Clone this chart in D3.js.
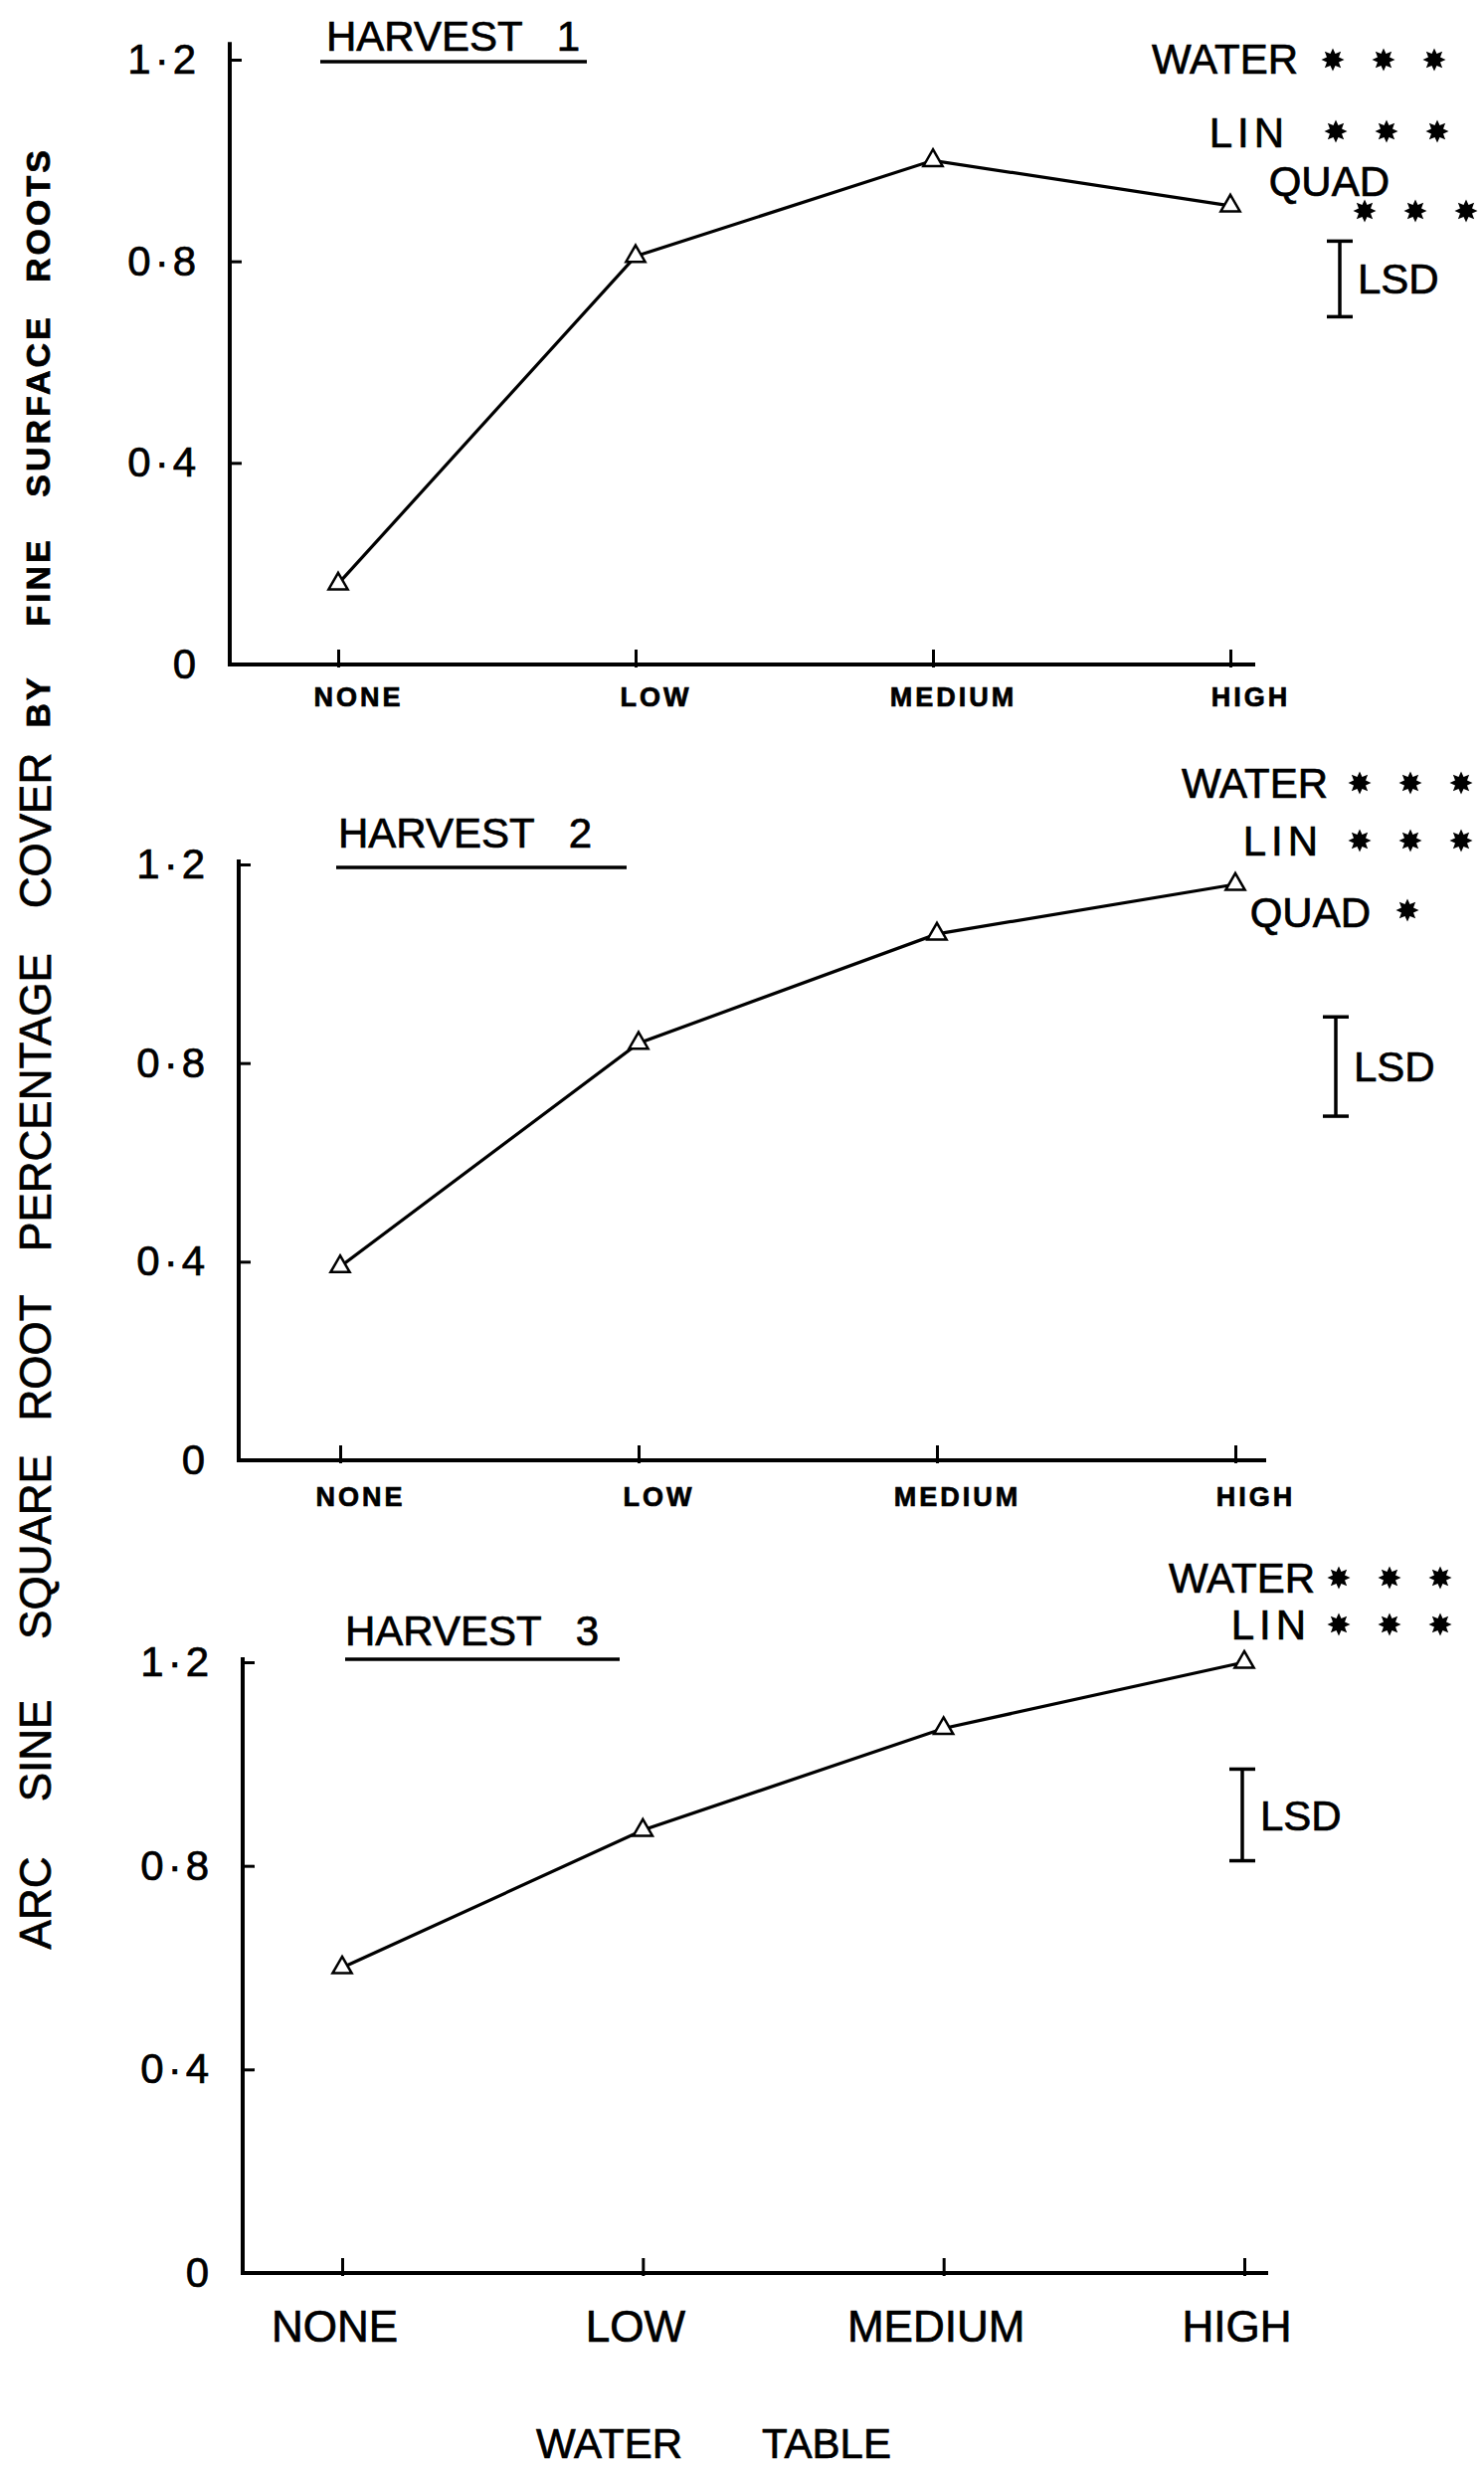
<!DOCTYPE html>
<html><head><meta charset="utf-8">
<script src="https://cdn.jsdelivr.net/npm/d3@7"></script>
<style>
body{margin:0;background:#fff}
svg{display:block}
text{font-family:"Liberation Sans",Arial,sans-serif;fill:#000;stroke:#000;stroke-width:0.7px}
</style>
</head><body>
<svg id="chart" width="1492" height="2479"></svg>
<script>
// ---------- DATA ----------
const categories = ["NONE", "LOW", "MEDIUM", "HIGH"];
const harvest1 = [0.16, 0.81, 1.00, 0.91];
const harvest2 = [0.39, 0.84, 1.06, 1.16];
const harvest3 = [0.60, 0.87, 1.07, 1.20];
const yTickValues = [0, 0.4, 0.8, 1.2];
const yTickLabels = ["0", "0·4", "0·8", "1·2"];
const harvestNames = ["HARVEST", "HARVEST", "HARVEST"];
const harvestNumbers = ["1", "2", "3"];
const lsdValues = [0.15, 0.20, 0.18];
const sigTerms1 = ["WATER", "LIN", "QUAD"];
const sigStars1 = [3, 3, 3];
const sigTerms2 = ["WATER", "LIN", "QUAD"];
const sigStars2 = [3, 3, 1];
const sigTerms3 = ["WATER", "LIN"];
const sigStars3 = [3, 3];
const yTitleWords = ["ARC", "SINE", "SQUARE", "ROOT", "PERCENTAGE", "COVER", "BY", "FINE", "SURFACE", "ROOTS"];
const xTitleWords = ["WATER", "TABLE"];

// ---------- LAYOUT ----------
const panels = [
  {values: harvest1, terms: sigTerms1, stars: sigStars1,
   yTop: 60, yBottom: 668, axisX: 231, xFirst: 340, xLast: 1237, axisEnd: 1262, axisTopVal: 1.235,
   titleX: 328, titleY: 51, ulY: 62, ul: [322, 590], lsdX: 1347, lsdMid: 0.765,
   sig: [{tx:1305,ty:74,sx:1340,sy:60},{tx:1296,ty:148,sx:1343,sy:132},{tx:1397,ty:197,sx:1372,sy:212}],
   cat: {size: 27, bold: true, dy: 42, dx: 20, ls: 3}},
  {values: harvest2, terms: sigTerms2, stars: sigStars2,
   yTop: 869, yBottom: 1468, axisX: 240, xFirst: 342, xLast: 1242, axisEnd: 1273, axisTopVal: 1.21,
   titleX: 340, titleY: 852, ulY: 872, ul: [338, 630], lsdX: 1343, lsdMid: 0.793,
   sig: [{tx:1335,ty:802,sx:1367,sy:787},{tx:1330,ty:860,sx:1367,sy:845},{tx:1378,ty:932,sx:1415,sy:915}],
   cat: {size: 27, bold: true, dy: 46, dx: 20, ls: 3}},
  {values: harvest3, terms: sigTerms3, stars: sigStars3,
   yTop: 1671, yBottom: 2285, axisX: 244, xFirst: 344, xLast: 1251, axisEnd: 1275, axisTopVal: 1.21,
   titleX: 347, titleY: 1654, ulY: 1668, ul: [347, 623], lsdX: 1249, lsdMid: 0.90,
   sig: [{tx:1322,ty:1601,sx:1346,sy:1586},{tx:1318,ty:1648,sx:1346,sy:1633}],
   cat: {size: 44, bold: false, dy: 69, dx: -8, ls: 0}}
];

const svg = d3.select("#chart");
svg.append("rect").attr("width", 1492).attr("height", 2479).attr("fill", "#fff");

function starPath(cx, cy, rO, rI, n) {
  const pts = [];
  for (let i = 0; i < 2 * n; i++) {
    const r = i % 2 === 0 ? rO : rI;
    const a = Math.PI * i / n - Math.PI / 2;
    pts.push([cx + r * Math.cos(a), cy + r * Math.sin(a)]);
  }
  return "M" + pts.map(p => p.join(",")).join("L") + "Z";
}

panels.forEach((p, pi) => {
  const g = svg.append("g");
  const y = d3.scaleLinear().domain([0, 1.2]).range([p.yBottom, p.yTop]);
  const x = d3.scalePoint().domain(categories).range([p.xFirst, p.xLast]);

  // axis lines
  g.append("line").attr("x1", p.axisX).attr("x2", p.axisX)
    .attr("y1", y(p.axisTopVal)).attr("y2", y(0))
    .attr("stroke", "#000").attr("stroke-width", 4);
  g.append("line").attr("x1", p.axisX - 2).attr("x2", p.axisEnd)
    .attr("y1", y(0)).attr("y2", y(0))
    .attr("stroke", "#000").attr("stroke-width", 4);

  // y axis ticks
  const yAxis = d3.axisLeft(y).tickValues(yTickValues)
    .tickFormat((d, i) => yTickLabels[i]).tickSizeInner(-12).tickSizeOuter(0).tickPadding(30);
  const ya = g.append("g").attr("transform", `translate(${p.axisX},0)`).call(yAxis);
  ya.select(".domain").remove();
  ya.selectAll(".tick line").attr("stroke", "#000").attr("stroke-width", 3);
  ya.selectAll(".tick text").attr("font-size", 42).attr("letter-spacing", 4)
    .style("font-family", '"Liberation Sans",Arial,sans-serif').attr("fill", "#000");

  // x axis ticks
  const xAxis = d3.axisBottom(x).tickSizeInner(-15).tickSizeOuter(0).tickPadding(p.cat.dy);
  const xa = g.append("g").attr("transform", `translate(0,${y(0)})`).call(xAxis);
  xa.select(".domain").remove();
  xa.selectAll(".tick line").attr("stroke", "#000").attr("stroke-width", 3)
    .attr("y1", 3);
  xa.selectAll(".tick text")
    .attr("font-size", p.cat.size)
    .attr("font-weight", p.cat.bold ? "bold" : "normal")
    .attr("letter-spacing", p.cat.ls)
    .attr("dx", p.cat.dx)
    .attr("dy", 0)
    .style("font-family", '"Liberation Sans",Arial,sans-serif').attr("fill", "#000");

  // data line
  const line = d3.line().x((d, i) => x(categories[i])).y(d => y(d));
  g.append("path").datum(p.values).attr("d", line)
    .attr("fill", "none").attr("stroke", "#000").attr("stroke-width", 3.2);
  g.selectAll(".pt").data(p.values).join("path")
    .attr("transform", (d, i) => `translate(${x(categories[i])},${y(d)})`)
    .attr("d", d3.symbol(d3.symbolTriangle, 160)())
    .attr("fill", "#fff").attr("stroke", "#000").attr("stroke-width", 2.5);

  // title
  const t = g.append("text").attr("x", p.titleX).attr("y", p.titleY).attr("font-size", 42);
  t.append("tspan").text(harvestNames[pi]);
  t.append("tspan").attr("dx", 34).text(harvestNumbers[pi]);
  g.append("line").attr("x1", p.ul[0]).attr("x2", p.ul[1])
    .attr("y1", p.ulY).attr("y2", p.ulY).attr("stroke", "#000").attr("stroke-width", 3.5);

  // LSD bar
  const lsdTop = y(p.lsdMid + lsdValues[pi] / 2), lsdBot = y(p.lsdMid - lsdValues[pi] / 2);
  g.append("line").attr("x1", p.lsdX).attr("x2", p.lsdX).attr("y1", lsdTop).attr("y2", lsdBot)
    .attr("stroke", "#000").attr("stroke-width", 3.5);
  [lsdTop, lsdBot].forEach(yy => g.append("line")
    .attr("x1", p.lsdX - 13).attr("x2", p.lsdX + 13).attr("y1", yy).attr("y2", yy)
    .attr("stroke", "#000").attr("stroke-width", 3.5));
  g.append("text").attr("x", p.lsdX + 18).attr("y", (lsdTop + lsdBot) / 2 + 15)
    .attr("font-size", 42).text("LSD");

  // significance annotations
  p.terms.forEach((term, ti) => {
    const s = p.sig[ti];
    g.append("text").attr("x", s.tx).attr("y", s.ty).attr("text-anchor", "end")
      .attr("font-size", 42).attr("letter-spacing", term === "LIN" ? 5 : 0).text(term);
    for (let k = 0; k < p.stars[ti]; k++) {
      g.append("path").attr("d", starPath(s.sx + k * 51, s.sy, 11.5, 6.5, 8)).attr("fill", "#000");
    }
  });
});

// y axis title (words placed along the left edge)
const yTitleCenters = [1913, 1760, 1555, 1365, 1108, 835, 705, 585, 408, 216];
yTitleWords.forEach((w, i) => {
  const hand = i >= 6;
  svg.append("text")
    .attr("transform", `translate(${hand ? 50 : 51},${yTitleCenters[i]}) rotate(-90)`)
    .attr("text-anchor", "middle")
    .attr("font-size", hand ? 34 : 44)
    .attr("font-weight", hand ? "bold" : "normal")
    .attr("letter-spacing", hand ? 3 : 0)
    .text(w);
});

// x axis title
svg.append("text").attr("x", 686).attr("y", 2471).attr("text-anchor", "end").attr("font-size", 42).text(xTitleWords[0]);
svg.append("text").attr("x", 766).attr("y", 2471).attr("font-size", 42).text(xTitleWords[1]);
</script>
</body></html>
